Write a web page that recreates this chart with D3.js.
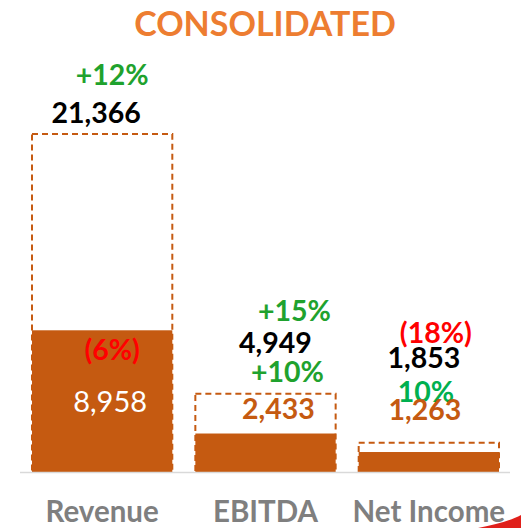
<!DOCTYPE html>
<html><head><meta charset="utf-8">
<script src="https://cdn.jsdelivr.net/npm/d3@7"></script>
<style>body{margin:0;background:#fff}svg{display:block}</style>
</head><body>
<svg id="c" width="521" height="528"></svg>
<script>
const categories = ["Revenue", "EBITDA", "Net Income"];
const totalValues = [21366, 4949, 1853];
const currentValues = [8958, 2433, 1263];
const totalGrowth = ["+12%", "+15%", "(18%)"];
const currentGrowth = ["(6%)", "+10%", "10%"];
const title = "CONSOLIDATED";

const FONT = "Lato, 'Open Sans', sans-serif";
const ORANGE = "#C55A11";
const svg = d3.select("#c");

const x = d3.scaleBand().domain(categories).range([32, 499]).paddingInner(0.141).paddingOuter(0);
const y = d3.scaleLinear().domain([0, 21366]).range([472, 134]);
const bw = x.bandwidth();

// title
svg.append("text").attr("x", 265).attr("y", 36).attr("text-anchor", "middle")
  .style("font-family", FONT).style("font-weight", 700).style("font-size", "34px")
  .attr("fill", "#ED7D31").text(title);

// dashed total bars
svg.selectAll(".tot").data(categories).join("rect")
  .attr("x", d => x(d)).attr("y", (d, i) => y(totalValues[i]))
  .attr("width", bw).attr("height", (d, i) => y(0) - y(totalValues[i]))
  .attr("fill", "none").attr("stroke", ORANGE).attr("stroke-width", 2)
  .attr("stroke-dasharray", "6,4");

// filled current bars
svg.selectAll(".cur").data(categories).join("rect")
  .attr("x", d => x(d)).attr("y", (d, i) => y(currentValues[i]))
  .attr("width", bw).attr("height", (d, i) => y(0) - y(currentValues[i]))
  .attr("fill", ORANGE);

// baseline
svg.append("line").attr("x1", 20).attr("x2", 510).attr("y1", y(0) + 0.5).attr("y2", y(0) + 0.5)
  .attr("stroke", "#D9D9D9").attr("stroke-width", 1.5);

const fmt = d3.format(",");
// label layout: [dx from bar center, baseline y]
const layout = {
  totalGrowth:   [[10, 85], [29, 321], [7, 343]],
  totalValue:    [[-6, 123], [10, 353], [-5, 368]],
  currentGrowth: [[10, 360], [22, 382], [-3, 402]],
  currentValue:  [[8, 412], [13, 419], [-4, 420]]
};
const cx = c => x(c) + bw / 2;
function addLabels(texts, pos, colorFn, weight, size) {
  svg.append("g").selectAll("text").data(categories).join("text")
    .attr("x", (d, i) => cx(d) + pos[i][0]).attr("y", (d, i) => pos[i][1])
    .attr("text-anchor", "middle")
    .style("font-family", FONT).style("font-weight", weight).style("font-size", size + "px")
    .attr("fill", colorFn).text((d, i) => texts[i]);
}
addLabels(totalGrowth, layout.totalGrowth, (d, i) => totalGrowth[i].startsWith("(") ? "#FF0000" : "#1FA22E", 700, 28.5);
addLabels(totalValues.map(fmt), layout.totalValue, () => "#000", 700, 28.5);
addLabels(currentGrowth, layout.currentGrowth, (d, i) => currentGrowth[i].startsWith("(") ? "#FF0000" : (i === 2 ? "#00B050" : "#1FA22E"), 700, 28.5);
addLabels(currentValues.map(fmt), layout.currentValue, (d, i) => i === 0 ? "#FFFFFF" : ORANGE, 700, 28.5);
// first current value is regular weight
svg.selectAll("text").filter(function(){ return this.textContent === fmt(currentValues[0]); })
  .style("font-weight", 400).style("font-size", "29px");

// category labels
svg.append("g").selectAll("text").data(categories).join("text")
  .attr("x", d => cx(d)).attr("y", 522).attr("text-anchor", "middle")
  .style("font-family", FONT).style("font-weight", 700).style("font-size", "29.5px")
  .attr("fill", "#7F7F7F").text(d => d);

// decorative red swoosh (bottom right)
svg.insert("path", ":first-child")
  .attr("d", "M478,528 C498,524 512,520 521,515 L521,528 Z")
  .attr("fill", "#E0201B");
</script>
</body></html>
